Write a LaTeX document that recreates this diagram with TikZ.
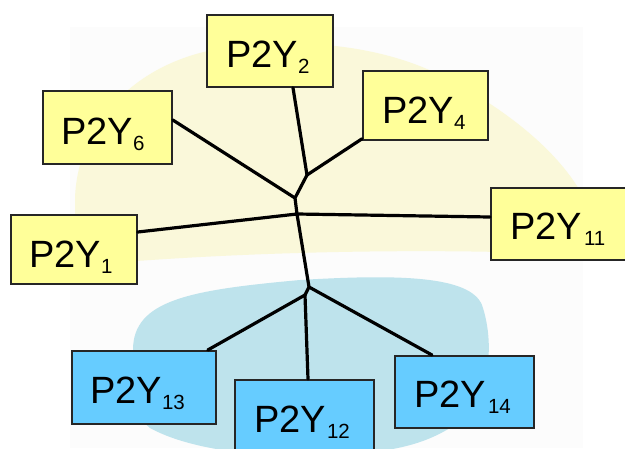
\documentclass[tikz,border=0pt]{standalone}
\usepackage{fontspec}
\setmainfont{Liberation Sans}
\usetikzlibrary{calc}
\definecolor{bgYel}{RGB}{250,248,218}
\definecolor{bgBlu}{RGB}{190,227,236}
\definecolor{boxYel}{RGB}{255,255,153}
\definecolor{boxBlu}{RGB}{102,204,255}
\newcommand{\sbx}[1]{\raisebox{-6pt}{\fontsize{20.5}{21}\selectfont #1}}
\tikzset{
  pbox/.style={draw=black!85, line width=1.8pt, rectangle, inner sep=0pt, anchor=north west},
  ybox/.style={pbox, fill=boxYel},
  bbox/.style={pbox, fill=boxBlu},
  lbl/.style={inner sep=0pt, anchor=base west, font=\fontsize{38}{40}\selectfont},
  edge/.style={line width=3.2pt, line join=round, line cap=round, black}
}
\begin{document}
\begin{tikzpicture}[x=1pt,y=-1pt]
\useasboundingbox (0,0) rectangle (625,448);
\clip (0,0) rectangle (625,448);
\fill[white] (0,0) rectangle (625,448);
\fill[black!1] (70,27) rectangle (583,448);
% yellow background blob
\fill[bgYel] (75,265) -- (75,200) .. controls (76,130) and (130,60) .. (230,47)
  .. controls (300,38) and (380,45) .. (440,75)
  .. controls (500,105) and (560,150) .. (585,200) -- (585,255)
  .. controls (450,248) and (250,250) .. (75,266) -- cycle;
% blue background blob
\fill[bgBlu] (133,350) .. controls (133,300) and (190,290) .. (300,280)
  .. controls (400,274) and (470,276) .. (482,305)
  .. controls (494,340) and (494,400) .. (450,428)
  .. controls (420,446) and (390,452) .. (330,456)
  .. controls (260,458) and (190,450) .. (150,428)
  .. controls (133,415) and (133,380) .. cycle;
% boxes
\node[ybox, minimum width=126pt, minimum height=72pt] (b2) at (206,14) {};
\node[ybox, minimum width=125pt, minimum height=69pt] (b4) at (362,70) {};
\node[ybox, minimum width=129pt, minimum height=73pt] (b6) at (42,90) {};
\node[ybox, minimum width=126pt, minimum height=69pt] (b1) at (10,214) {};
\node[ybox, minimum width=150pt, minimum height=72pt] (b11) at (490,187) {};
\node[bbox, minimum width=144pt, minimum height=73pt] (b13) at (71,350) {};
\node[bbox, minimum width=139pt, minimum height=80pt] (b12) at (234,379) {};
\node[bbox, minimum width=139pt, minimum height=72pt] (b14) at (394,355) {};
% labels
\node[lbl] (t2) at ($(b2.north west)+(20,53)$) {P2Y\sbx{2}};
\node[lbl] (t4) at ($(b4.north west)+(20,53)$) {P2Y\sbx{4}};
\node[lbl] (t6) at ($(b6.north west)+(19,54)$) {P2Y\sbx{6}};
\node[lbl] (t1) at ($(b1.north west)+(19,53)$) {P2Y\sbx{1}};
\node[lbl] (t11) at ($(b11.north west)+(20,52)$) {P2Y\sbx{\kern2pt 11}};
\node[lbl] (t13) at ($(b13.north west)+(19,53)$) {P2Y\sbx{13}};
\node[lbl] (t12) at ($(b12.north west)+(20,53)$) {P2Y\sbx{\kern1pt 12}};
\node[lbl] (t14) at ($(b14.north west)+(20,52)$) {P2Y\sbx{\kern2pt 14}};
% junctions
\coordinate (A) at (307,175);
\coordinate (B) at (295,198);
\coordinate (C) at (297,214);
\coordinate (D) at (309,287);
\coordinate (E) at (305,295);
% tree
\draw[edge] ($(b2.south west)+(87,0)$) -- (A);
\draw[edge] ($(b4.south west)+(0,-2)$) -- (A);
\draw[edge] (A) -- (B) -- (C) -- (D) -- (E);
\draw[edge] ($(b6.north east)+(0,30)$) -- (B);
\draw[edge] ($(b1.north east)+(0,18)$) -- (C);
\draw[edge] (C) -- ($(b11.north west)+(0,30)$);
\draw[edge] (D) -- ($(b14.north west)+(38,0)$);
\draw[edge] (E) -- ($(b13.north east)+(-9,0)$);
\draw[edge] (E) -- ($(b12.north west)+(74,0)$);
\end{tikzpicture}
\end{document}
